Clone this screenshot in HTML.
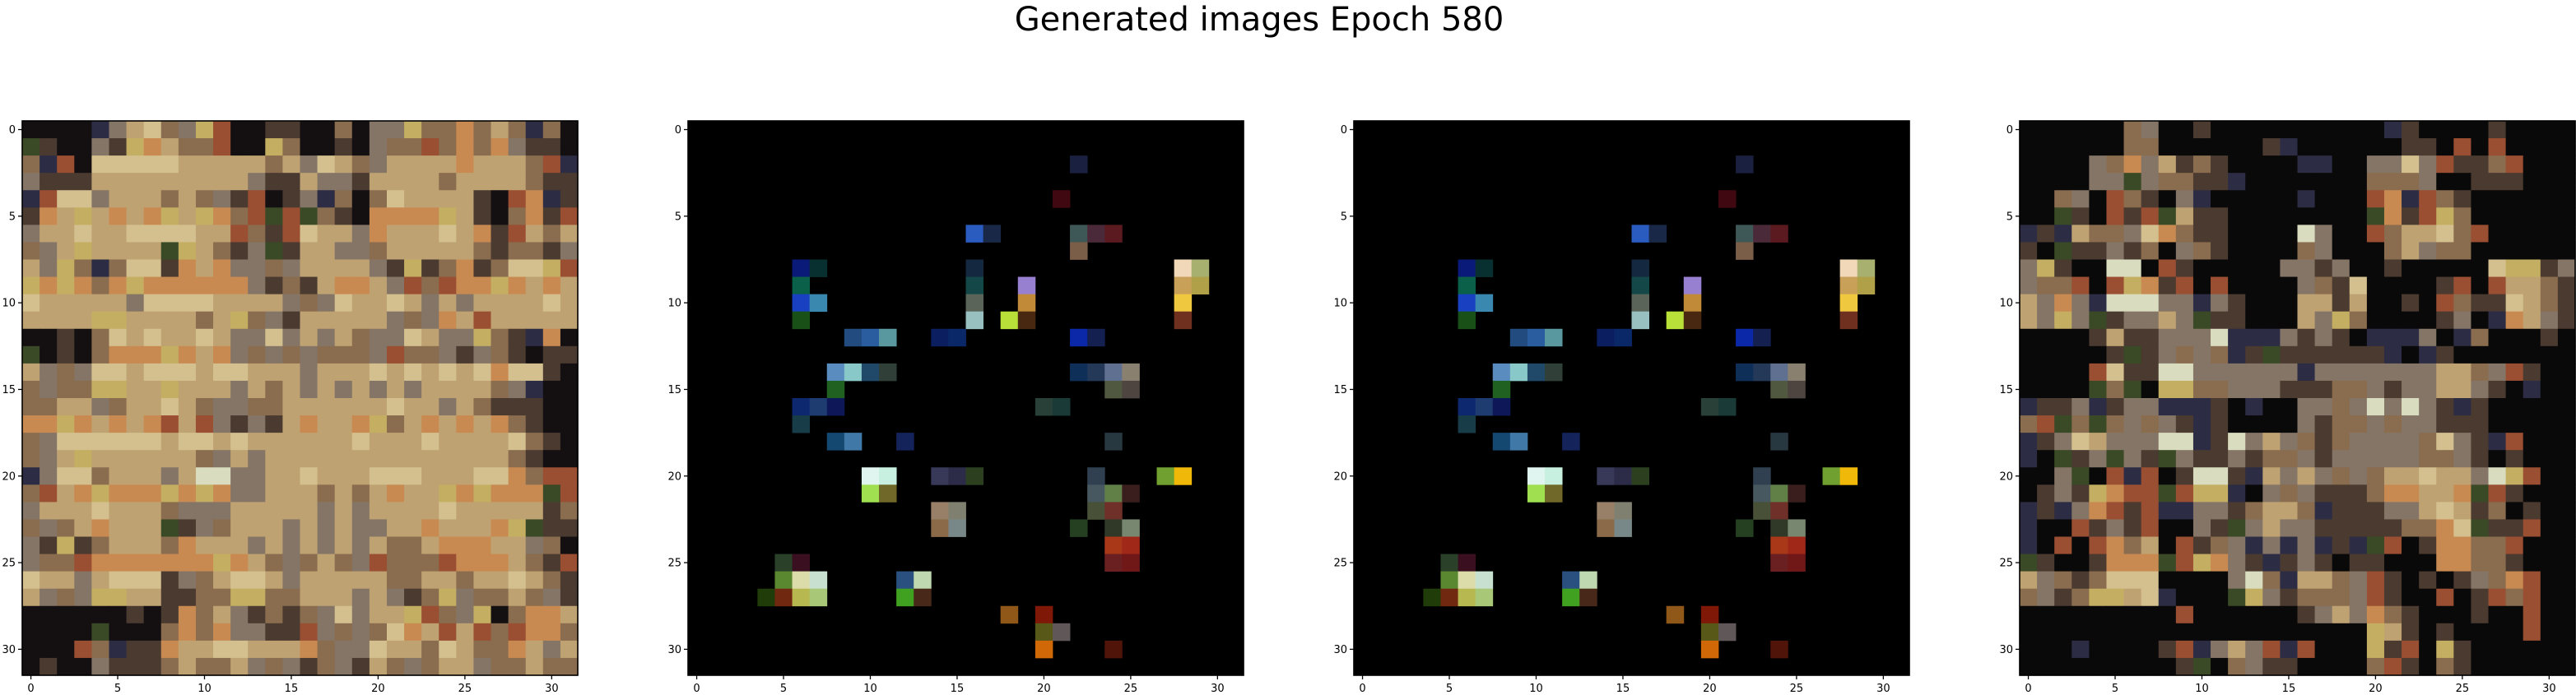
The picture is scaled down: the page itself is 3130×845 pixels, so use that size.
<!DOCTYPE html>
<html><head><meta charset="utf-8">
<style>
html,body{margin:0;padding:0;background:#fff;}
svg{display:block;}
text{font-family:"DejaVu Sans","Liberation Sans",sans-serif;fill:#000;}
</style></head>
<body>
<svg id="fig" width="3130" height="845" viewBox="0 0 3130 845" xmlns="http://www.w3.org/2000/svg">
<rect width="3130" height="845" fill="#fff"/>
<text x="1530" y="37" font-size="40" text-anchor="middle">Generated images Epoch 580</text>
</svg>
<script>
// palette keys and colours
const paletteKeys = ["k","d","m","t","l","o","y","g","b","r","w","n"];
const paletteColors = ["#141012","#4a3a30","#8a6c4e","#bfa272","#d4c08e","#c98a52","#c4ae62","#857566","#2c2c44","#9a4e32","#dadcc0","#3a4a26"];
// panel 1 rows
const panel1Rows = [
"kkkkbgtlmgyrkkddkkmkggymmomtmbmk","ndkkgdyotmmrkkymkkdkgmmrmomogddk","mbrkllllltttttmtgltmgttttotttmrb","gdddtttttttttgddtggdttttmttttmdd",
"brllgtttmtmgdrkdgbmkmlttttdkrobd","dotytotoytyomrnrnmdkooooytdkmodr","gttlttllllttrmdrlttgotttltodrtmt","mgtyttttnytmdgndttggmtttttmdmmdg",
"tgymbmlldotoggmgttttgdydmodmllyr","yoyomoyoooooogdmdtootgrmrooyotot","ltttttgllllttttgmglttltgtgttttlt","ttttyyttttmtymgdtttttgmgotrttttt",
"kkdkmltlttltgglgtgtmggltggymdbok","nkdkmoooyotogmgmgmmmgrmmgdgmdkdd","tgmglltllltlltttgtttltltltlolldk","mgmmyyttytttgtmtgtgtgtgttttmgbkk",
"mmttgmttltmggmmttttttlttgtmdddkk","ooyototortrgdgdtottoymtototomdkk","mglllllltlltlttttttltttlttttlmdk","mgtyttttttmgtgttttttttttttttmdk".padEnd(32,"k"),
"bgllmtttgtwwggttltttllltttllomrr","mrtoyoooyoyoggtttmtmtottyoyooonr","gtttltttmgggtttttgtgttttltttttdm","mgmtotttndgmtttgtgtggttotttoyndd",
"gdydmtttmotttgtgtgtgtmmtooottgmk","gmmroooooooyotmgmtmgrmmmroootmdr","lttgtllldgmtlltgtttttmmttmttltmd","tgmgyyttddmmyymmtttgtgdmygmmtmgd",
"kkkkkkdkdomtgdmdmglgttyrmgykmoot","kkkknkkkmomoggddrgmgmlotrtrmroom","kkkrmbddottlltttomgglttmltmmotgt","kdkkgdddmtmmtgmgdmgdtmgmttgmmtmm"
];
// panel 4 rows
const panel4Rows = [
"kkkkkkmgkkdkkkkkkkkkkbdkkkkdkkkk","kkkkkkmmkkkkkkdbkkkkkkddkrkrkkkk","kkkkgmogtdmdkkkkbbkkgglgrddmrkkk","kkkkggngmmddbkkkkkkkmmmgkkdddkkk",
"kkmgkrmdkgbkkkkkbkkkrobrmdkkkkkk","kkndkrdrntddkkkkkkkknodrymkkkkkk","bdbtmmglomddkkkkwgkkrmttlmrkkkkk","dknddgdmkgmdkkkkmgkkkmtgmmkkkkkk",
"gydkkwwkrdkkkkkggdgkkdkkkkklyydg".slice(0,32),"gmmrkryodrkrkkkkgmdlkkkkdrkrttmd","tgogbwwwggbgdkkkttdtkkdkrmddltmd","tgygndggtgnddkkktgymkkkkdgkbotgd",
"kkkkdtddgggwbbbgdgdkbbbgkbmkkkdk","kkkkkdndgmgmbdnddddddbkbdkkkkkkk","kkkkrlddwwggggggbgggggggttmgrdkk","kkkknmnkyymmgggdddmmgdggttgdkbkk",
"bddgbdggbbbdkbkkggmgwgwgdbdkkkkk","mrnmnmgmgdbdkkkkgdmmgmggdddkkkkk","bdgltgggwwbdwgtgmdmggggmlgdbrkkk","bkndgngdngddgdmmgdgggggmmgdkdkkk",
"kkgnkrbrkdwwdbtgtgmgmttlttgwyrkk","kdgdyorrnryybkgmgdddmoottonrdkkk","bdbgordrbbggdmttmbdddggtltdmkdkk","bkkrdgdrkkgdngtggdddddmmolnddrkk",
"bkrkromtkrdmgbgbgbdbnrkdoommrkkk","ndkkdooonryogdbdgdkddkkkoommdkkk","tgmdmlllkkkkgwmbttmgrdkdkdgmorkk","mgdmyytlbkkknygdmmmgrdkkrkdrmrkk",
"kkkkkkkkkrkkkkkkdgtgomdkkkdkkrkk","kkkkkkkkkkkkkkkkkkkkytdkdkkkkrkk","kkkbkkkkdrbgtgrbrkkkydrkydkkkkkk","kkkkkkkkkdnkmgddkkkkmrdkmdkkkkkk"
];
// panel 4 dark colour (near black)
const panel4Dark = "#0a0909";
// panel 2/3 sparse bright cells: rows, cols, colours
const sparseRows = [2,4,6,6,6,6,6,7,8,8,8,8,8,9,9,9,9,9,10,10,10,10,10,11,11,11,11,11,12,12,12,12,12,12,12,14,14,14,14,14,14,14,14,15,15,15,16,16,16,16,16,17,18,18,18,18,20,20,20,20,20,20,20,20,21,21,21,21,21,22,22,22,22,23,23,23,23,23,24,24,25,25,25,25,26,26,26,26,26,27,27,27,27,27,27,28,28,29,29,30,30];
const sparseCols = [22,21,16,17,22,23,24,22,6,7,16,28,29,6,16,19,28,29,6,7,16,19,28,6,16,18,19,28,9,10,11,14,15,22,23,8,9,10,11,22,23,24,25,8,24,25,6,7,8,20,21,6,8,9,12,24,10,11,14,15,16,23,27,28,10,11,23,24,25,14,15,23,24,14,15,22,24,25,24,25,5,6,24,25,5,6,7,12,13,4,5,6,7,12,13,18,20,20,21,20,24];
const sparseColors = ["#1a2040","#400810","#2a5cc0","#1a2848","#3e5858","#4a2a38","#5a1a20","#7a5e48","#0a1a78","#083030","#142840","#f0d8b8","#a8b070","#0a6048","#144848","#9880d0","#c8a058","#b0a048","#1840c0","#3a88b0","#5a6458","#c08a38","#f0c840","#185018","#98c0c0","#b8e038","#482810","#703020","#224c80","#2a5ca0","#5a98a0","#0a1e60","#0a2868","#0a28a8","#142050","#5a8cc0","#88c8c8","#204868","#304038","#0e3058","#243858","#607090","#8a8070","#206020","#505840","#4e4440","#0e2870","#1e3c70","#0e1858","#284038","#1a3a38","#183c48","#144870","#4078a8","#14245a","#283840","#e0f4f0","#c8f0e0","#383858","#2c2c48","#2c4020","#304050","#70a030","#f0b808","#a0e050","#706828","#485860","#608048","#3a1e1e","#988068","#808070","#485038","#6e3028","#8a6a48","#788888","#244020","#303828","#788870","#a83818","#a02818","#2a4028","#3a1020","#6a2020","#701818","#5a8830","#dcdcaa","#c8e0d0","#2a5080","#c0d8b0","#203c08","#702810","#b8b850","#a8c878","#40a020","#482818","#905818","#801808","#585818","#605858","#d06808","#501408"];
const tickValues = [0,5,10,15,20,25,30];
const NS = "http://www.w3.org/2000/svg";
const svg = document.getElementById("fig");
const panelLeft = [27, 836, 1645, 2454];
const panelTop = 147, panelW = 675, panelH = 674, nCells = 32;
const cw = panelW / nCells, ch = panelH / nCells;
function xScale(p, c){ return panelLeft[p] + c * cw; }
function yScale(r){ return panelTop + r * ch; }
function mk(tag, attrs){ const e = document.createElementNS(NS, tag); for (const k in attrs) e.setAttribute(k, attrs[k]); return e; }
function colorOf(ch0, p){ if (p === 3 && ch0 === "k") return panel4Dark; const i = paletteKeys.indexOf(ch0); return i < 0 ? paletteColors[0] : paletteColors[i]; }

for (let p = 0; p < 4; p++) {
  const g = mk("g", {});
  
  
  svg.appendChild(g);
  const bg = mk("rect", {x: panelLeft[p], y: panelTop, width: panelW, height: panelH, fill: p === 1 || p === 2 ? "#000" : "#fff"});
  
  
  g.appendChild(bg);
  if (p === 0 || p === 3) {
    const rows = p === 0 ? panel1Rows : panel4Rows;
    for (let r = 0; r < nCells; r++) for (let c = 0; c < nCells; c++) {
      const ch0 = (rows[r] || "")[c] || "k";
      const cell = mk("rect", {x: xScale(p, c).toFixed(2), y: yScale(r).toFixed(2), width: (cw + 0.6).toFixed(2), height: (ch + 0.6).toFixed(2), fill: colorOf(ch0, p)});
      
      
      g.appendChild(cell);
    }
  } else {
    for (let i = 0; i < sparseRows.length; i++) {
      const cell = mk("rect", {x: xScale(p, sparseCols[i]).toFixed(2), y: yScale(sparseRows[i]).toFixed(2), width: (cw + 0.4).toFixed(2), height: (ch + 0.4).toFixed(2), fill: sparseColors[i]});
      
      
      g.appendChild(cell);
    }
  }
  const frame = mk("rect", {x: panelLeft[p], y: panelTop, width: panelW, height: panelH, fill: "none", stroke: "#000", "stroke-width": 1.6});
  
  
  g.appendChild(frame);
  tickValues.forEach(v => {
    const tx = xScale(p, v + 0.5);
    const t1 = mk("line", {x1: tx, x2: tx, y1: panelTop + panelH, y2: panelTop + panelH + 5, stroke: "#000", "stroke-width": 1.3});
    
    
    g.appendChild(t1);
    const l1 = mk("text", {x: tx, y: panelTop + panelH + 20, "font-size": 13, "text-anchor": "middle"});
    l1.textContent = v;
    
    
    g.appendChild(l1);
    const ty = yScale(v + 0.5);
    const t2 = mk("line", {x1: panelLeft[p] - 5, x2: panelLeft[p], y1: ty, y2: ty, stroke: "#000", "stroke-width": 1.3});
    
    
    g.appendChild(t2);
    const l2 = mk("text", {x: panelLeft[p] - 8, y: ty + 4.5, "font-size": 13, "text-anchor": "end"});
    l2.textContent = v;
    
    
    g.appendChild(l2);
  });
}
</script>
</body></html>
